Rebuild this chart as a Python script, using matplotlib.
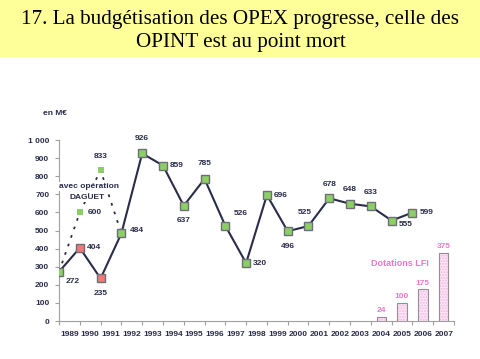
import matplotlib
matplotlib.use("Agg")
import matplotlib.pyplot as plt
from matplotlib import font_manager as fm
from matplotlib.patches import Rectangle

years = [str(y) for y in range(1989, 2008)]
opex_values = [272, 404, 235, 484, 926, 859, 637, 785, 526, 320, 696, 496, 525, 678, 648, 633, 555, 599]
opex_colors = ["g", "r", "r"] + ["g"] * 15
daguet_values = [272, 600, 833, 484]
lfi_years_idx = [15, 16, 17, 18]
lfi_values = [24, 100, 175, 375]
yticks = list(range(0, 1001, 100))
ytick_labels = ["0", "100", "200", "300", "400", "500", "600", "700", "800", "900", "1 000"]

# label offsets (points) per opex point
opex_offsets = [(8, -7), (8, 0), (0, -11), (9, 2), (0, 11), (8, 0), (0, -11), (0, 11),
                (9, 9), (8, 0), (8, 0), (0, -11), (-3, 10), (0, 10), (0, 10), (0, 10), (8, -3), (8, 0)]

navy = "#2a2d4a"
green = "#8ccf66"
red = "#f07a78"
pink = "#e87acb"

names = {f.name for f in fm.fontManager.ttflist}
if "Liberation Sans Narrow" in names:
    fnt = "Liberation Sans Narrow"
    fs = 6.5
else:
    fnt = "Liberation Sans"
    fs = 6.0

fig = plt.figure(figsize=(4.81, 3.59), dpi=100)
fig.patch.set_facecolor("white")
fig.add_artist(Rectangle((0, 0.841), 1, 0.159, transform=fig.transFigure,
                         facecolor="#ffff99", edgecolor="none", zorder=0))
fig.text(0.5, 0.947, "17. La budgétisation des OPEX progresse, celle des",
         ha="center", va="center", fontsize=15.2, family="Liberation Serif", color="black")
fig.text(0.5, 0.883, "OPINT est au point mort",
         ha="center", va="center", fontsize=15.2, family="Liberation Serif", color="black")

ax = fig.add_axes([0.1227, 0.1058, 0.8212, 0.5042])
tkw = dict(family=fnt, fontweight="bold")

# bars: faint hatch layer, then outline
ax.bar(lfi_years_idx, lfi_values, width=0.45, color="#fde8f7", edgecolor="#f2b8e2",
       linewidth=0, hatch="......", zorder=2)
ax.bar(lfi_years_idx, lfi_values, width=0.45, facecolor="none", edgecolor="#9a8a96",
       linewidth=0.8, zorder=3)
for i, v in zip(lfi_years_idx, lfi_values):
    ax.annotate(str(v), (i, v), xytext=(0, 2), textcoords="offset points", ha="center",
                va="bottom", fontsize=fs, color=pink, **tkw)
ax.text(15.9, 320, "Dotations LFI", ha="center", va="center", fontsize=fs + 0.5,
        color=pink, **tkw)

# daguet dotted line
dx = [i - 0.5 for i in range(len(daguet_values))]
ax.plot(dx, daguet_values, linestyle=(0, (1.5, 3.5)), color=navy, linewidth=1.3, zorder=3)
ax.plot(dx[1:3], daguet_values[1:3], linestyle="none", marker="s", markersize=4.5,
        color=green, markeredgewidth=0, zorder=4)
ax.annotate("600", (dx[1], daguet_values[1]), xytext=(6, 0), textcoords="offset points",
            ha="left", va="center", fontsize=fs, color=navy, **tkw)
ax.annotate("833", (dx[2], daguet_values[2]), xytext=(0, 10), textcoords="offset points",
            ha="center", va="center", fontsize=fs, color=navy, **tkw)
box = dict(facecolor="white", edgecolor="none", pad=0.6)
ax.text(0.95, 745, "avec opération", ha="center", va="center", fontsize=fs,
        color=navy, bbox=box, zorder=4, **tkw)
ax.text(0.85, 680, "DAGUET", ha="center", va="center", fontsize=fs,
        color=navy, bbox=box, zorder=4, **tkw)

# main line
ox = [i - 0.5 for i in range(len(opex_values))]
ax.plot(ox, opex_values, color=navy, linewidth=1.5, zorder=5)
for x, v, c, off in zip(ox, opex_values, opex_colors, opex_offsets):
    ax.plot([x], [v], marker="s", markersize=6.2, color=green if c == "g" else red,
            markeredgecolor="#6e6e78", markeredgewidth=1.0, zorder=6)
    ha = "left" if off[0] > 4 else "center"
    ax.annotate(str(v), (x, v), xytext=(off[0] - (3 if ha == "left" else 0), off[1]),
                textcoords="offset points", ha=ha, va="center", fontsize=fs,
                color=navy, zorder=7, **tkw)

ax.set_xlim(-0.5, 18.5)
ax.set_ylim(0, 1000)
ax.set_xticks([i - 0.5 for i in range(20)])
ax.set_xticklabels([])
ax.set_xticks(range(19), minor=True)
ax.set_xticklabels(years, minor=True)
ax.tick_params(axis="x", which="minor", length=0, pad=7, labelsize=fs, labelcolor=navy)
ax.tick_params(axis="x", which="major", length=3, color="#a0a0a0", direction="out")
ax.set_yticks(yticks)
ax.set_yticklabels(ytick_labels)
ax.tick_params(axis="y", length=3, color="#a0a0a0", labelsize=fs, labelcolor=navy, pad=4)
for lab in ax.get_xticklabels(minor=True) + ax.get_yticklabels():
    lab.set_family(fnt)
    lab.set_fontweight("bold")
for s in ["top", "right"]:
    ax.spines[s].set_visible(False)
for s in ["left", "bottom"]:
    ax.spines[s].set_color("#a0a0a0")
    ax.spines[s].set_linewidth(0.8)
ax.set_facecolor("none")
for t in ax.texts:
    t.set_clip_on(False)

fig.text(0.114, 0.685, "en M€", ha="center", va="center", fontsize=fs, color=navy, **tkw)

fig.savefig("out.png", dpi=100)
